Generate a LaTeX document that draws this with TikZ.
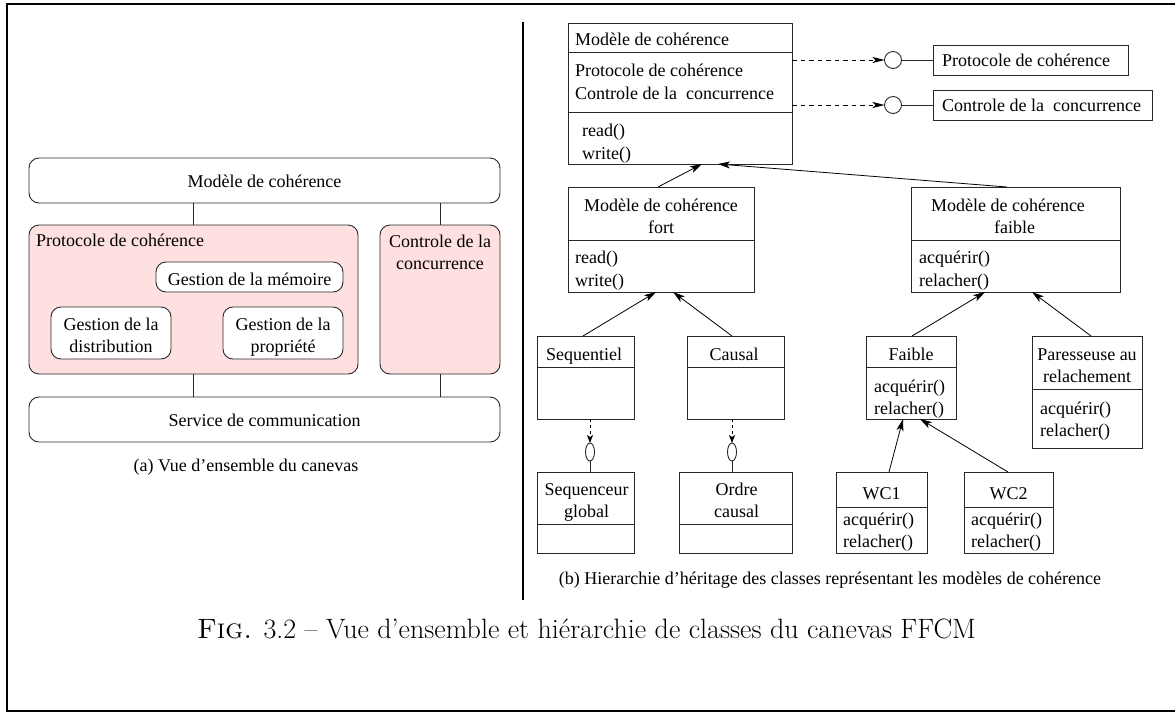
\documentclass[tikz,border=0pt]{standalone}
\usepackage{fontspec}
\newfontfamily\tnr{Liberation Serif}
\usetikzlibrary{arrows.meta,calc,shapes.geometric}
\definecolor{pinkfill}{RGB}{255,224,224}
\definecolor{edge}{RGB}{40,40,40}
\newcommand{\boxat}[6]{\node[#6, minimum width={#4-#2}, minimum height={#5-#3}, inner sep=0pt, outer sep=0pt] (#1) at ({(#2+#4)/2},{(#3+#5)/2}) {};}
\begin{document}
\begin{tikzpicture}[x=1pt,y=-1pt,
  txt/.style={inner sep=0pt, font=\tnr\fontsize{18}{22}\selectfont},
  rbox/.style={draw=edge, line width=0.9pt, rounded corners=10pt},
  cls/.style={draw=edge, line width=0.9pt},
  cline/.style={draw=edge, line width=0.9pt},
  inh/.style={draw=black, line width=0.8pt, -{Stealth[length=12pt,width=7pt,inset=3pt]}},
  dep/.style={draw=black, line width=0.8pt, dash pattern=on 4.5pt off 4pt, -{Stealth[length=12pt,width=6pt,inset=3pt]}},
  dep2/.style={draw=black, line width=0.8pt, dash pattern=on 3pt off 3pt, -{Stealth[length=8pt,width=6pt,inset=2pt]}},
  ifc/.style={circle, draw=edge, line width=0.9pt, minimum size=17pt, inner sep=0pt, outer sep=0pt},
  elli/.style={ellipse, draw=edge, line width=0.9pt, minimum width=9pt, minimum height=18pt, inner sep=0pt, outer sep=0pt}]
\useasboundingbox (0,0) rectangle (1175,713);
% frame
\draw[line width=2pt] (1175,4) -- (7,4) -- (7,711) -- (1175,711);
\draw[line width=1.1pt] (523,22) -- (523,600);

% ---------------- left panel
\boxat{lmc}{29}{158}{500}{203}{rbox}
\boxat{lpc}{29}{225}{358}{374}{rbox,fill=pinkfill}
\boxat{lcc}{380}{225}{500}{374}{rbox,fill=pinkfill}
\boxat{lsc}{29}{397}{500}{442}{rbox}
\boxat{lgm}{156}{262}{343}{292}{rbox,fill=white}
\boxat{lgd}{51}{307}{171}{359}{rbox,fill=white}
\boxat{lgp}{223}{307}{343}{359}{rbox,fill=white}
\draw[cline] (lmc.south -| 193,0) -- (lpc.north -| 193,0);
\draw[cline] (lmc.south -| 440,0) -- (lcc.north -| 440,0);
\draw[cline] (lpc.south -| 193,0) -- (lsc.north -| 193,0);
\draw[cline] (lcc.south -| 440,0) -- (lsc.north -| 440,0);
\node[txt, anchor=base] (tlmc) at (264.5,187) {Modèle de cohérence};
\node[txt, anchor=base west] (tlpc) at (36,246) {Protocole de cohérence};
\node[txt, anchor=base] (tlcc1) at (440,247) {Controle de la};
\node[txt, anchor=base] (tlcc2) at (440,269) {concurrence};
\node[txt, anchor=base] (tlgm) at (249.5,285) {Gestion de la mémoire};
\node[txt, anchor=base] (tlgd1) at (111,330) {Gestion de la};
\node[txt, anchor=base] (tlgd2) at (111,352) {distribution};
\node[txt, anchor=base] (tlgp1) at (283,330) {Gestion de la};
\node[txt, anchor=base] (tlgp2) at (283,352) {propriété};
\node[txt, anchor=base] (tlsc) at (264.5,426) {Service de communication};
\node[txt, anchor=base] (tcapa) at (246,471) {(a) Vue d’ensemble du canevas};

% ---------------- right panel
% top class
\boxat{top}{568}{23}{792}{164}{cls}
\draw[cline] (top.west |- 0,52) -- (top.east |- 0,52);
\draw[cline] (top.west |- 0,112) -- (top.east |- 0,112);
\node[txt, anchor=base west] (ttop1) at (575,45) {Modèle de cohérence};
\node[txt, anchor=base west] (ttop2) at (575,76) {Protocole de cohérence};
\node[txt, anchor=base west] (ttop3) at (575,99) {Controle de la~~concurrence};
\node[txt, anchor=base west] (ttop4) at (582,136) {read()};
\node[txt, anchor=base west] (ttop5) at (582,159) {write()};
% interfaces
\node[ifc] (i1) at (893,60) {};
\node[ifc] (i2) at (893,105) {};
\boxat{p1}{933}{45}{1128}{75}{cls}
\boxat{p2}{933}{90}{1152}{120}{cls}
\node[txt, anchor=base west] (tp1) at (942,66) {Protocole de cohérence};
\node[txt, anchor=base west] (tp2) at (942,111) {Controle de la~~concurrence};
\draw[dep] (top.east |- i1.west) -- (i1.west);
\draw[dep] (top.east |- i2.west) -- (i2.west);
\draw[cline] (i1.east) -- (p1.west);
\draw[cline] (i2.east) -- (p2.west);

% fort
\boxat{fort}{568}{187}{754}{292}{cls}
\draw[cline] (fort.west |- 0,240) -- (fort.east |- 0,240);
\node[txt, anchor=base] (tf1) at (661,211) {Modèle de cohérence};
\node[txt, anchor=base] (tf2) at (661,233) {fort};
\node[txt, anchor=base west] (tf3) at (575,263) {read()};
\node[txt, anchor=base west] (tf4) at (575,286) {write()};
% faible model
\boxat{weak}{911}{187}{1120}{292}{cls}
\draw[cline] (weak.west |- 0,240) -- (weak.east |- 0,240);
\node[txt, anchor=base] (tw1) at (1008,211) {Modèle de cohérence};
\node[txt, anchor=base] (tw2) at (1014.5,233) {faible};
\node[txt, anchor=base west] (tw3) at (919,263) {acquérir()};
\node[txt, anchor=base west] (tw4) at (919,286) {relacher()};

% Sequentiel / Causal
\boxat{seq}{537}{336}{634}{419}{cls}
\draw[cline] (seq.west |- 0,367) -- (seq.east |- 0,367);
\node[txt, anchor=base] (ts1) at (584,360) {Sequentiel};
\boxat{cau}{687}{336}{784}{419}{cls}
\draw[cline] (cau.west |- 0,367) -- (cau.east |- 0,367);
\node[txt, anchor=base] (tc1) at (734,360) {Causal};
% Sequenceur global / Ordre causal
\boxat{sg}{537}{472}{634}{553}{cls}
\draw[cline] (sg.west |- 0,524) -- (sg.east |- 0,524);
\node[txt, anchor=base] (tsg1) at (586.5,495) {Sequenceur};
\node[txt, anchor=base] (tsg2) at (586.5,517) {global};
\boxat{oc}{679}{472}{792}{553}{cls}
\draw[cline] (oc.west |- 0,524) -- (oc.east |- 0,524);
\node[txt, anchor=base] (toc1) at (736.5,495) {Ordre};
\node[txt, anchor=base] (toc2) at (736.5,517) {causal};
\node[elli] (e1) at (590,452) {};
\node[elli] (e2) at (732,452) {};
\draw[dep2] (seq.south -| e1) -- (e1.north);
\draw[dep2] (cau.south -| e2) -- (e2.north);
\draw[cline] (e1.south) -- (sg.north -| e1);
\draw[cline] (e2.south) -- (oc.north -| e2);

% Faible / Paresseuse
\boxat{fb}{866}{336}{956}{419}{cls}
\draw[cline] (fb.west |- 0,367) -- (fb.east |- 0,367);
\node[txt, anchor=base] (tfb1) at (911,360) {Faible};
\node[txt, anchor=base west] (tfb2) at (874,392) {acquérir()};
\node[txt, anchor=base west] (tfb3) at (874,414) {relacher()};
\boxat{par}{1032}{336}{1142}{448}{cls}
\draw[cline] (par.west |- 0,389) -- (par.east |- 0,389);
\node[txt, anchor=base] (tpa1) at (1087,360) {Paresseuse au};
\node[txt, anchor=base] (tpa2) at (1087,382) {relachement};
\node[txt, anchor=base west] (tpa3) at (1040,414) {acquérir()};
\node[txt, anchor=base west] (tpa4) at (1040,436) {relacher()};
% WC1 / WC2
\boxat{wc1}{836}{472}{927}{553}{cls}
\draw[cline] (wc1.west |- 0,507) -- (wc1.east |- 0,507);
\node[txt, anchor=base] (twa1) at (881.5,499) {WC1};
\node[txt, anchor=base west] (twa2) at (843,525) {acquérir()};
\node[txt, anchor=base west] (twa3) at (843,547) {relacher()};
\boxat{wc2}{964}{472}{1053}{553}{cls}
\draw[cline] (wc2.west |- 0,507) -- (wc2.east |- 0,507);
\node[txt, anchor=base] (twb1) at (1008.5,499) {WC2};
\node[txt, anchor=base west] (twb2) at (971,525) {acquérir()};
\node[txt, anchor=base west] (twb3) at (971,547) {relacher()};

% inheritance arrows
\draw[inh] (fort.north -| 658,0) -- (top.south -| 702,0);
\draw[inh] (weak.north -| 1007,0) -- (top.south -| 718,0);
\draw[inh] (seq.north -| 583,0) -- (fort.south -| 656,0);
\draw[inh] (cau.north -| 732,0) -- (fort.south -| 673,0);
\draw[inh] (fb.north -| 912,0) -- (weak.south -| 985,0);
\draw[inh] (par.north -| 1091,0) -- (weak.south -| 1032,0);
\draw[inh] (wc1.north -| 889,0) -- (fb.south -| 903,0);
\draw[inh] (wc2.north -| 1008,0) -- (fb.south -| 920,0);

\node[txt, anchor=base] (tcapb) at (830,584) {(b) Hierarchie d’héritage des classes représentant les modèles de cohérence};

% main caption
\node[anchor=base, inner sep=0pt, font=\fontsize{28}{34}\selectfont] (cap) at (586.5,638) {\textsc{Fig.} 3.2 – Vue d’ensemble et hiérarchie de classes du canevas FFCM};
\end{tikzpicture}
\end{document}
